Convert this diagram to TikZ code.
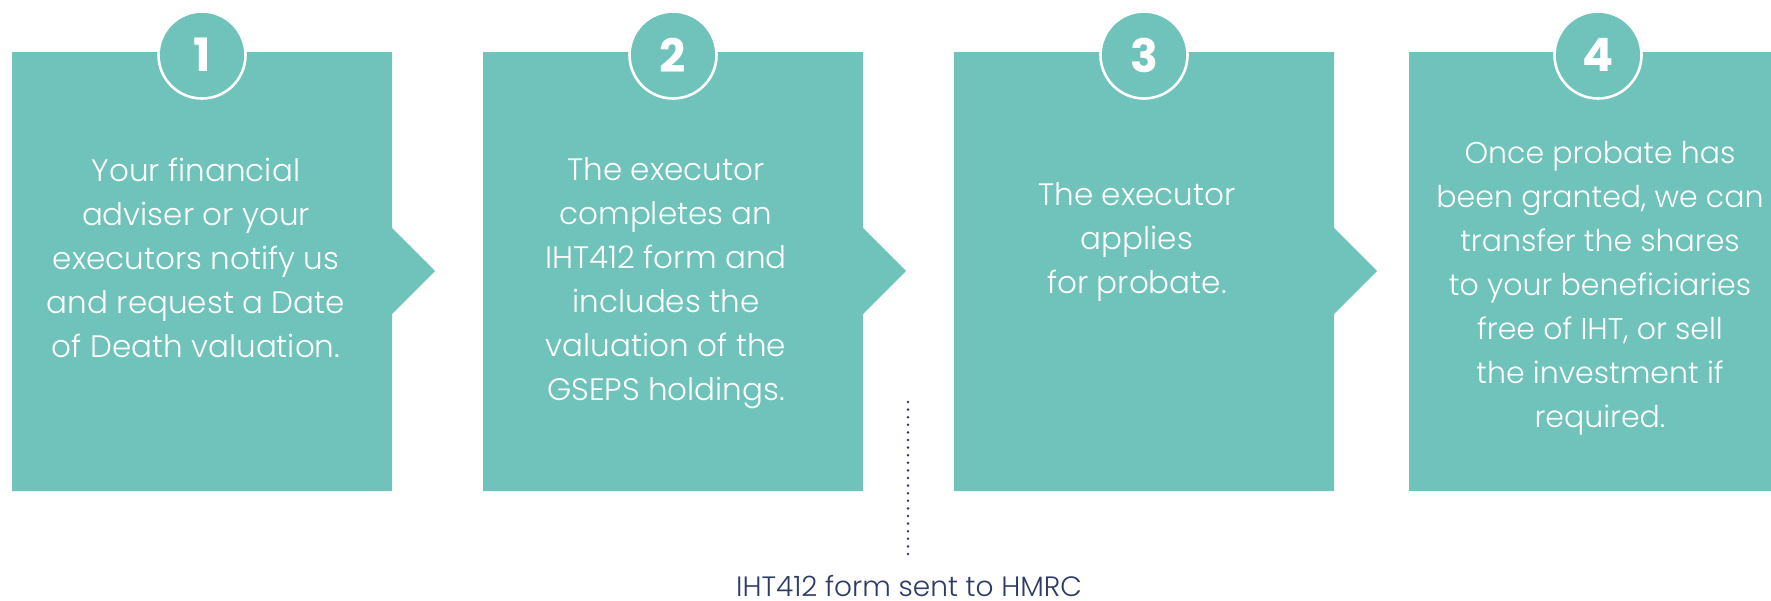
\documentclass[tikz,border=0pt]{standalone}
\usepackage{fontspec}
\setmainfont{Poppins}[UprightFont={* Light}, BoldFont={* Bold}]
\definecolor{tealbox}{HTML}{6FC3BB}
\definecolor{navytext}{HTML}{2E3B66}
\tikzset{
  boxfill/.style={fill=tealbox},
  numcircle/.style={circle, fill=tealbox, draw=white, line width=2.6pt, minimum size=87pt, inner sep=0pt,
    text=white, font=\fontsize{46}{46}\selectfont\bfseries},
  boxtext/.style={text=white, align=center, inner sep=0pt, anchor=base,
    font=\fontsize{31}{44}\selectfont},
  notetext/.style={text=navytext, inner sep=0pt, anchor=base, font=\fontsize{28}{30}\selectfont},
  dotline/.style={draw=navytext, line width=2.8pt, line cap=round, dash pattern=on 0pt off 7.6pt}
}
\begin{document}
\begin{tikzpicture}[x=1pt,y=-1pt]
\useasboundingbox (0,0) rectangle (1771,600);
\clip (0,0) rectangle (1771,600);
% boxes with arrow notch
\foreach \L in {12,483,954}{
  \fill[boxfill] (\L,52) -- ({\L+380},52) -- ({\L+380},228) -- ({\L+423},271) -- ({\L+380},314)
    -- ({\L+380},491) -- (\L,491) -- cycle;
}
\fill[boxfill] (1409,52) rectangle (1789,491);
% numbers
\node[numcircle] (c1) at (202,55) {1};
\node[numcircle] (c2) at (673,55) {2};
\node[numcircle] (c3) at (1144,55) {3};
\node[numcircle] (c4) at (1598,55) {4};
% texts (anchor = baseline of last line)
\node[boxtext] (t1) at (196,357) {Your financial\\adviser or your\\executors notify us\\and request a Date\\of Death valuation.};
\node[boxtext] (t2) at (666,400) {The executor\\completes an\\IHT412 form and\\includes the\\valuation of the\\GSEPS holdings.};
\node[boxtext] (t3) at (1137,293) {The executor\\applies\\for probate.};
\node[boxtext, font=\fontsize{30}{44}\selectfont] (t4) at (1600,427) {Once probate has\\been granted, we can\\transfer the shares\\to your beneficiaries\\free of IHT, or sell\\the investment if\\required.};
% note
\node[notetext] (note) at (909,596) {IHT412 form sent to HMRC};
\coordinate (dtop) at (908,402);
\draw[dotline] (dtop) -- ([yshift=42pt]note.base -| dtop);
\end{tikzpicture}
\end{document}
